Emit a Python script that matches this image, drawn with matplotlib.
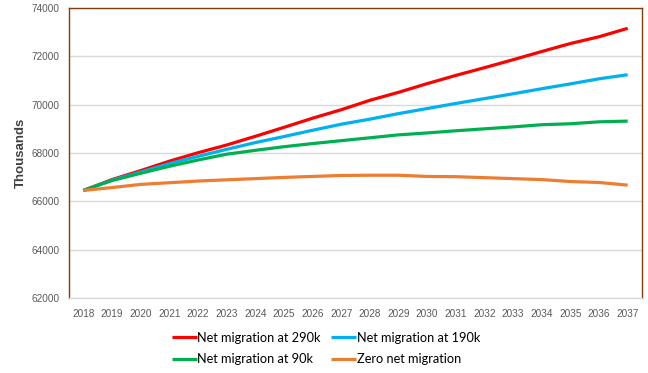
import matplotlib.pyplot as plt
import numpy as np

years = [str(y) for y in range(2018, 2038)]

net_290k = [66450, 66900, 67270, 67660, 68010, 68330, 68690, 69060, 69440, 69790,
            70180, 70510, 70870, 71210, 71530, 71860, 72200, 72530, 72810, 73160]
net_190k = [66450, 66880, 67210, 67560, 67860, 68150, 68430, 68680, 68940, 69190,
            69400, 69630, 69840, 70050, 70250, 70450, 70660, 70860, 71070, 71240]
net_90k = [66450, 66860, 67160, 67450, 67710, 67950, 68110, 68260, 68390, 68510,
           68630, 68750, 68830, 68920, 69000, 69080, 69170, 69210, 69290, 69320]
zero_net = [66450, 66570, 66700, 66770, 66840, 66890, 66940, 66990, 67030, 67070,
            67080, 67080, 67030, 67020, 66980, 66940, 66900, 66820, 66780, 66670]

series = [
    ("Net migration at 290k", net_290k, "#FF0000"),
    ("Net migration at 190k", net_190k, "#00B0F0"),
    ("Net migration at 90k", net_90k, "#00B050"),
    ("Zero net migration", zero_net, "#ED7D31"),
]

plt.rcParams['font.family'] = ['Liberation Sans', 'DejaVu Sans']

fig = plt.figure(figsize=(6.48, 3.73), dpi=100)
ax = fig.add_axes([69 / 648, 75 / 373, 573 / 648, 290 / 373])

x = np.arange(len(years))
lines = {}
for name, vals, col in series:
    lines[name], = ax.plot(x, vals, color=col, lw=2.3, label=name, solid_capstyle='butt')

ax.set_xlim(-0.5, len(years) - 0.5)
ax.set_ylim(62000, 74000)
ax.set_yticks(np.arange(62000, 74001, 2000))
ax.set_xticks(x)
ax.set_xticklabels(years)
ax.tick_params(axis='both', length=0, labelsize=7.2, labelcolor='#595959')
ax.tick_params(axis='y', pad=7)
ax.tick_params(axis='x', pad=8)
ax.grid(axis='y', color='#D9D9D9', lw=1)
ax.set_axisbelow(True)
for s in ax.spines.values():
    s.set_color('#843C0C')
    s.set_linewidth(1)
ax.spines['bottom'].set_color('#D9D9D9')

ax.set_ylabel("Thousands", fontsize=9.5, fontweight='bold', color='#404040', labelpad=3)

# order so the two legend rows read red/blue then green/orange
order = ["Net migration at 290k", "Net migration at 90k",
         "Net migration at 190k", "Zero net migration"]
fig.legend([lines[n] for n in order], order, ncol=2, loc='center',
           bbox_to_anchor=(326 / 648, 1 - 348.5 / 373), frameon=False,
           prop={'family': 'Lato', 'size': 9.2}, handlelength=1.95,
           handletextpad=0.05, columnspacing=0.8, labelspacing=0.75,
           labelcolor='#000000')

fig.savefig("out.png", dpi=100)
